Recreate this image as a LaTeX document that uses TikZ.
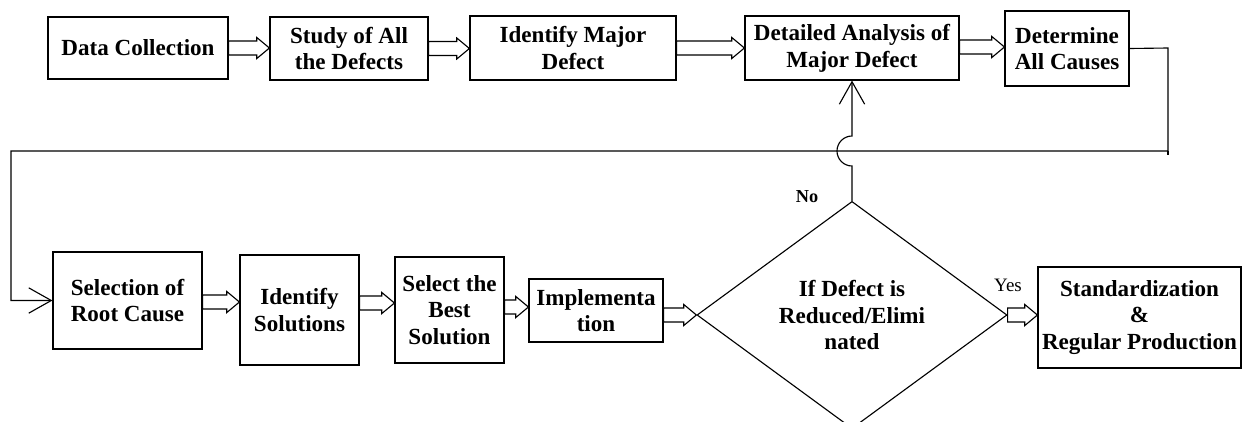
\documentclass[tikz,border=0pt]{standalone}
\usepackage{fontspec}
\setmainfont{Liberation Serif}
\usetikzlibrary{shapes.geometric,arrows.meta,calc}
\tikzset{
  stepbox/.style={draw,line width=0.8pt,align=center,inner sep=2pt,
    font=\bfseries\fontsize{16.4}{19}\selectfont},
  fat/.style={draw,fill=white,line width=0.8pt,line join=miter,
    to path={let \p1=(\tikztostart),\p2=(\tikztotarget) in
      (\x1,\y1+5pt) -- (\x2-9pt,\y1+5pt) -- (\x2-9pt,\y1+7.5pt) -- (\x2,\y1)
      -- (\x2-9pt,\y1-7.5pt) -- (\x2-9pt,\y1-5pt) -- (\x1,\y1-5pt) -- cycle}},
  wire/.style={line width=0.8pt},
  barb/.style={-{Straight Barb[length=16pt,width=18pt,line width=0.8pt]}}
}
\begin{document}
\begin{tikzpicture}[x=0.025cm,y=-0.025cm]
  \clip (0,0) rectangle (1242,421);
  % top row
  \node[stepbox,minimum width=4.5cm,minimum height=1.55cm] (dc) at (138,48) {Data Collection};
  \node[stepbox,minimum width=3.95cm,minimum height=1.575cm] (study) at (349,48.5) {Study of All\\the Defects};
  \node[stepbox,minimum width=5.15cm,minimum height=1.6cm] (major) at (573,48) {Identify Major\\Defect};
  \node[stepbox,minimum width=5.35cm,minimum height=1.6cm] (detail) at (852,48) {Detailed Analysis of\\Major Defect};
  \node[stepbox,minimum width=3.1cm,minimum height=1.875cm] (causes) at (1067,48.5) {Determine\\All Causes};
  % bottom row
  \node[stepbox,minimum width=3.725cm,minimum height=2.425cm] (root) at (127.5,300.5) {Selection of\\Root Cause};
  \node[stepbox,minimum width=2.975cm,minimum height=2.75cm] (sol) at (299.5,310) {Identify\\Solutions};
  \node[stepbox,minimum width=2.725cm,minimum height=2.65cm] (best) at (449.5,310) {Select the\\Best\\Solution};
  \node[stepbox,minimum width=3.35cm,minimum height=1.575cm] (impl) at (596,310.5) {Implementa\\tion};
  \node[stepbox,diamond,minimum width=7.75cm,minimum height=5.6cm] (dia) at (852,315) {If Defect is\\Reduced/Elimi\\nated};
  \node[stepbox,minimum width=5.075cm,minimum height=2.525cm] (std) at (1139.5,317.5) {Standardization\\\&\\Regular Production};
  \node[font=\bfseries\fontsize{13}{15}\selectfont] (no) at (807,197) {No};
  \node[font=\fontsize{13.5}{15}\selectfont] (yes) at (1008,285) {Yes};

  % hollow arrows
  \path[fat] (dc.east) to (study.west);
  \path[fat] (study.east) to (major.west);
  \path[fat] (major.east) to (detail.west);
  \path[fat] (detail.east |- 0,47) to (causes.west |- 0,47);
  \path[fat] (root.east |- 0,302) to (sol.west |- 0,302);
  \path[fat] (sol.east |- 0,303) to (best.west |- 0,303);
  \path[fat] (best.east |- 0,307) to (impl.west |- 0,307);
  \path[fat] (impl.east |- dia.west) to (dia.west);
  \path[fat] (dia.east) to (std.west |- dia.east);

  % loop back lines
  \draw[wire,barb] (causes.east) -- (1168,48) -- (1168,151) -- (11,151) |- (root.west);
  \draw[wire] (1168,151) -- (1168,155);
  \draw[wire,barb] (dia.north) -- (852,166)
    arc[start angle=270,end angle=90,radius=0.375cm] -- (detail.south);
\end{tikzpicture}
\end{document}
